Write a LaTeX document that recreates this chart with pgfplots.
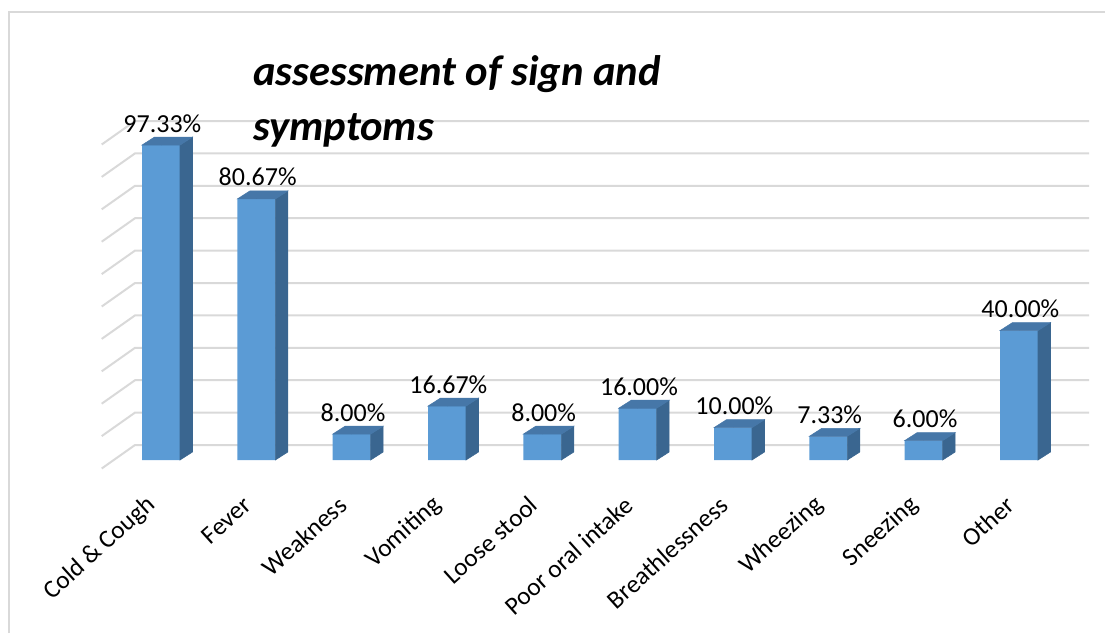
\documentclass[border=0pt]{standalone}
\usepackage{pgfplots}
\usepackage{pgfplotstable}
\pgfplotsset{compat=1.18}
\usepackage{fontspec}
\setmainfont{Carlito}

\definecolor{barfront}{HTML}{5B9BD5}
\definecolor{bartop}{HTML}{4677A8}
\definecolor{barside}{HTML}{3A6690}
\definecolor{gridgray}{HTML}{D9D9D9}

% share of patients showing each sign or symptom (%)
\pgfplotstableread{
idx value
0 97.33
1 80.67
2 8.00
3 16.67
4 8.00
5 16.00
6 10.00
7 7.33
8 6.00
9 40.00
}\symptoms

\begin{document}
\begin{tikzpicture}
% frame, back wall and title, laid out on a 1105 x 633 grid
\begin{scope}[x=0.75pt,y=-0.75pt]
  \useasboundingbox (0,0) rectangle (1105,633);
  \draw[gridgray, line width=1.5pt] (9,633) -- (9,12) -- (1105,12);
  \foreach \k in {0,...,10}{
    \pgfmathsetmacro\Y{445-32.4*\k}
    \draw[gridgray, line width=1.5pt] (101.7,\Y+23.5) -- (135,\Y) -- (1089,\Y);
  }
  \node[anchor=base west, inner sep=0pt, font=\fontsize{32}{38}\selectfont\bfseries\itshape] at (253,85) {assessment of sign and};
  \node[anchor=base west, inner sep=0pt, font=\fontsize{32}{38}\selectfont\bfseries\itshape] at (253,140) {symptoms};
\end{scope}

\begin{axis}[
  at={(85pt,-345pt)}, anchor=south west,
  x=71.5pt, y=2.427pt,
  xmin=-0.5, xmax=9.5, ymin=0, ymax=105,
  clip=false,
  axis line style={draw=none},
  major tick length=0pt,
  ytick=\empty,
  xtick={0,...,9},
  xticklabels={Cold \& Cough, Fever, Weakness, Vomiting, Loose stool, Poor oral intake, Breathlessness, Wheezing, Sneezing, Other},
  xticklabel style={font=\fontsize{19}{21}\selectfont, yshift=-31pt, xshift=-6.5pt, rotate=42, anchor=east, inner sep=0pt},
]
% side and top faces of each column
\addplot[scatter, only marks, mark=*, mark size=0pt,
  visualization depends on={\thisrow{value} \as \barval},
  scatter/@pre marker code/.code={%
    \pgfmathsetmacro\hb{6-\barval*2.427}%
    \pgfmathsetmacro\hf{-\barval*2.427}%
    \fill[barside] (14.25pt,0pt) -- (23.625pt,6pt) -- (23.625pt,\hb pt) -- (14.25pt,\hf pt) -- cycle;
    \fill[bartop] (-14.25pt,0pt) -- (-4.875pt,6pt) -- (23.625pt,6pt) -- (14.25pt,0pt) -- cycle;
  },
  scatter/@post marker code/.code={},
] table[x=idx, y=value]{\symptoms};
% front faces with value labels
\addplot[ybar, bar width=28.5pt, fill=barfront, draw=none,
  point meta=y,
  nodes near coords={\pgfmathprintnumber[fixed,fixed zerofill,precision=2,assume math mode=true]{\pgfplotspointmeta}\%},
  nodes near coords style={font=\fontsize{19.5}{22}\selectfont, anchor=base, yshift=9.75pt, xshift=1pt, text=black},
] table[x=idx, y=value]{\symptoms};
\end{axis}
\end{tikzpicture}
\end{document}
